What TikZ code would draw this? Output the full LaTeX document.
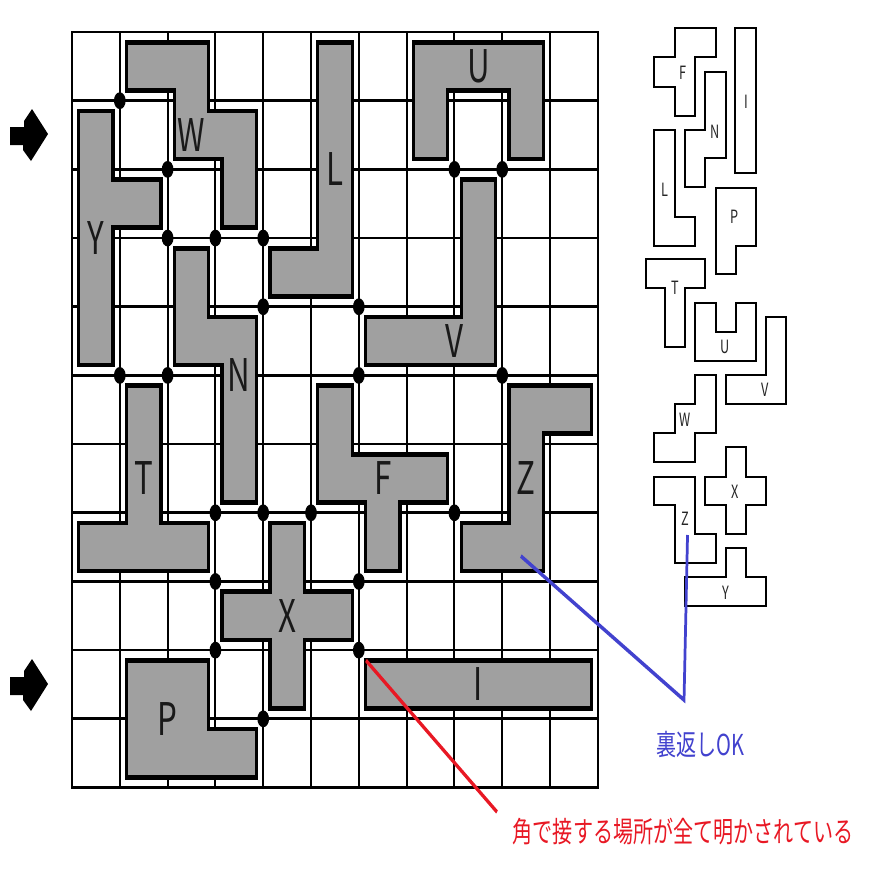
\documentclass[tikz,border=0pt]{standalone}
\usepackage{fontspec}
\setmainfont{Noto Sans CJK JP}

\definecolor{piecegray}{RGB}{160,160,160}
\definecolor{okblue}{RGB}{66,66,206}
\definecolor{notered}{RGB}{232,24,36}

\tikzset{
    gridline/.style={line width=1.9pt},
    piece/.style={fill=piecegray, draw=black, line width=3.3pt},
    spare/.style={fill=white, draw=black, line width=1.9pt},
    bigletter/.style={font=\fontsize{32}{32}\selectfont, text=black!90, inner sep=0pt},
    smallletter/.style={font=\fontsize{13}{13}\selectfont, text=black!85, inner sep=0pt},
    remark/.style={font=\fontsize{20.5}{20.5}\selectfont, inner sep=0pt},
    pointer/.style={line width=2.8pt},
}

\begin{document}
\begin{tikzpicture}[x=0.25mm, y=-0.25mm]

    \useasboundingbox (0,0) rectangle (890,890);

    \begin{scope}[x=0.3592mm, transform canvas={xscale=0.696}]

        % Board
        \begin{scope}[shift={(72,32)}, x=17.17mm, y=-17.17mm]

            \foreach \c in {1,...,10}
                \draw[gridline] (\c,0) -- (\c,11);
            \foreach \r in {1,...,10}
                \draw[gridline] (0,\r) -- (11,\r);
            \draw[gridline] (0,0) rectangle (11,11);

            % W
            \draw[piece] (01.14,00.15) -- (02.86,00.15) -- (02.86,01.15) -- (03.86,01.15) -- (03.86,02.85) -- (03.14,02.85)
                -- (03.14,01.85) -- (02.14,01.85) -- (02.14,00.85) -- (01.14,00.85) -- cycle;
            \node[bigletter] (labW) at (02.50,01.50) {W};

            % Y
            \draw[piece] (00.14,01.15) -- (00.86,01.15) -- (00.86,02.15) -- (01.86,02.15) -- (01.86,02.85) -- (00.86,02.85)
                -- (00.86,04.85) -- (00.14,04.85) -- cycle;
            \node[bigletter] (labY) at (00.50,03.00) {Y};

            % L
            \draw[piece] (05.14,00.15) -- (05.86,00.15) -- (05.86,03.85) -- (04.14,03.85) -- (04.14,03.15) -- (05.14,03.15) -- cycle;
            \node[bigletter] (labL) at (05.50,02.00) {L};

            % U
            \draw[piece] (07.14,00.15) -- (09.86,00.15) -- (09.86,01.85) -- (09.14,01.85) -- (09.14,00.85) -- (07.86,00.85)
                -- (07.86,01.85) -- (07.14,01.85) -- cycle;
            \node[bigletter] (labU) at (08.50,00.50) {U};

            % V
            \draw[piece] (08.14,02.15) -- (08.86,02.15) -- (08.86,04.85) -- (06.14,04.85) -- (06.14,04.15) -- (08.14,04.15) -- cycle;
            \node[bigletter] (labV) at (08.00,04.50) {V};

            % N
            \draw[piece] (02.14,03.15) -- (02.86,03.15) -- (02.86,04.15) -- (03.86,04.15) -- (03.86,06.85) -- (03.14,06.85)
                -- (03.14,04.85) -- (02.14,04.85) -- cycle;
            \node[bigletter] (labN) at (03.50,05.00) {N};

            % T
            \draw[piece] (01.14,05.15) -- (01.86,05.15) -- (01.86,07.15) -- (02.86,07.15) -- (02.86,07.85) -- (00.14,07.85)
                -- (00.14,07.15) -- (01.14,07.15) -- cycle;
            \node[bigletter] (labT) at (01.50,06.50) {T};

            % F
            \draw[piece] (05.14,05.15) -- (05.86,05.15) -- (05.86,06.15) -- (07.86,06.15) -- (07.86,06.85) -- (06.86,06.85)
                -- (06.86,07.85) -- (06.14,07.85) -- (06.14,06.85) -- (05.14,06.85) -- cycle;
            \node[bigletter] (labF) at (06.50,06.50) {F};

            % Z
            \draw[piece] (09.14,05.15) -- (10.86,05.15) -- (10.86,05.85) -- (09.86,05.85) -- (09.86,07.85) -- (08.14,07.85)
                -- (08.14,07.15) -- (09.14,07.15) -- cycle;
            \node[bigletter] (labZ) at (09.50,06.50) {Z};

            % X
            \draw[piece] (04.14,07.15) -- (04.86,07.15) -- (04.86,08.15) -- (05.86,08.15) -- (05.86,08.85) -- (04.86,08.85)
                -- (04.86,09.85) -- (04.14,09.85) -- (04.14,08.85) -- (03.14,08.85) -- (03.14,08.15) -- (04.14,08.15) -- cycle;
            \node[bigletter] (labX) at (04.50,08.50) {X};

            % P
            \draw[piece] (01.14,09.15) -- (02.86,09.15) -- (02.86,10.15) -- (03.86,10.15) -- (03.86,10.85) -- (01.14,10.85) -- cycle;
            \node[bigletter] (labP) at (02.00,10.00) {P};

            % I
            \draw[piece] (06.14,09.15) rectangle (10.86,09.85);
            \node[bigletter] (labI) at (08.50,09.50) {I};

            % corner contacts
            \foreach \c/\r in {1/1, 2/2, 2/3, 3/3, 4/3, 4/4, 6/4, 8/2, 9/2, 1/5, 2/5, 6/5, 9/5,
                               3/7, 4/7, 5/7, 8/7, 3/8, 6/8, 3/9, 6/9, 4/10}
                \fill (\c,\r) circle[radius=2.1mm];

            \coordinate (redtip) at (06.15,09.15);
            \coordinate (bluetip) at (09.39,07.63);

        \end{scope}

        % Arrows
        \foreach \dy in {0,550}
            \fill[shift={(0,\dy)}] (10,127) -- (24,127) -- (24,121) -- (32,109) -- (48,134) -- (31,161) -- (23,150)
                -- (23,145) -- (10,145) -- cycle;

        % Pieces to place
        \draw[spare] (675,28) -- (716,28) -- (716,57) -- (695,57) -- (695,116) -- (675,116) -- (675,87) -- (654,87)
            -- (654,57) -- (675,57) -- cycle;
        \node[smallletter] (sF) at (683,73) {F};

        \draw[spare] (735,28) rectangle (756,173);
        \node[smallletter] (sI) at (746,102) {I};

        \draw[spare] (705,72) -- (726,72) -- (726,158) -- (705,158) -- (705,187) -- (685,187) -- (685,130) -- (705,130) -- cycle;
        \node[smallletter] (sN) at (715,132) {N};

        \draw[spare] (654,130) -- (675,130) -- (675,217) -- (695,217) -- (695,246) -- (654,246) -- cycle;
        \node[smallletter] (sL) at (665,190) {L};

        \draw[spare] (716,188) -- (756,188) -- (756,246) -- (736,246) -- (736,274) -- (716,274) -- cycle;
        \node[smallletter] (sP) at (734,217) {P};

        \draw[spare] (646,259) -- (705,259) -- (705,288) -- (685,288) -- (685,347) -- (665,347) -- (665,288) -- (646,288) -- cycle;
        \node[smallletter] (sT) at (675,288) {T};

        \draw[spare] (695,303) -- (716,303) -- (716,332) -- (736,332) -- (736,303) -- (756,303) -- (756,361) -- (695,361) -- cycle;
        \node[smallletter] (sU) at (725,347) {U};

        \draw[spare] (766,317) -- (786,317) -- (786,404) -- (726,404) -- (726,375) -- (766,375) -- cycle;
        \node[smallletter] (sV) at (765,390) {V};

        \draw[spare] (695,375) -- (716,375) -- (716,433) -- (695,433) -- (695,462) -- (654,462) -- (654,433) -- (675,433)
            -- (675,404) -- (695,404) -- cycle;
        \node[smallletter] (sW) at (685,420) {W};

        \draw[spare] (726,447) -- (746,447) -- (746,477) -- (766,477) -- (766,505) -- (746,505) -- (746,534) -- (726,534)
            -- (726,505) -- (705,505) -- (705,477) -- (726,477) -- cycle;
        \node[smallletter] (sX) at (735,492) {X};

        \draw[spare] (654,477) -- (695,477) -- (695,534) -- (716,534) -- (716,563) -- (675,563) -- (675,505) -- (654,505) -- cycle;
        \node[smallletter] (sZ) at (685,519) {Z};

        \draw[spare] (726,548) -- (746,548) -- (746,577) -- (766,577) -- (766,606) -- (685,606) -- (685,577) -- (726,577) -- cycle;
        \node[smallletter] (sY) at (726,593) {Y};

        % Notes
        \node[remark, text=okblue] (flipok) at (700,745) {裏返しOK};
        \node[remark, text=notered] (allcorners) at (683,832) {角で接する場所が全て明かされている};

        \coordinate (bluejoin) at (684,700);
        \coordinate (smalltip) at (687.5,535);
        \coordinate (redend) at (497,812);

        \draw[pointer, okblue] (bluetip) -- (bluejoin) -- (smalltip);
        \draw[pointer, notered] (redtip) -- (redend);

    \end{scope}

\end{tikzpicture}
\end{document}
